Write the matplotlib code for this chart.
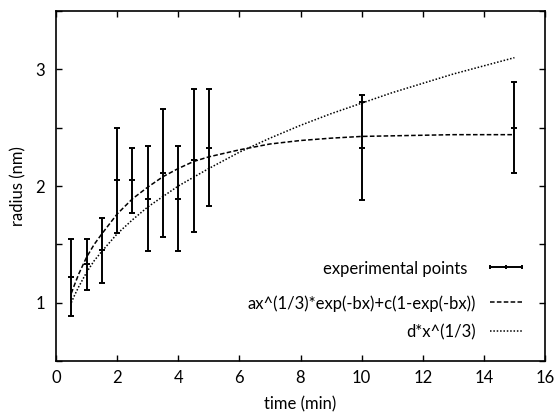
import matplotlib
matplotlib.use("Agg")
import matplotlib.pyplot as plt

# experimental points (time in min, radius in nm, error)
t_exp = [0.5, 1, 1.5, 2, 2.5, 3, 3.5, 4, 4.5, 5, 10, 15]
r_exp = [1.22, 1.33, 1.45, 2.05, 2.05, 1.89, 2.11, 1.89, 2.22, 2.33, 2.33, 2.50]
r_err = [0.33, 0.22, 0.28, 0.45, 0.28, 0.45, 0.55, 0.45, 0.61, 0.50, 0.45, 0.39]
# extra mark at t=10
t_extra = [10]
r_extra = [2.72]

# fitted curves, values
t_fit1 = [0.5, 0.6, 0.75, 1, 1.25, 1.5, 2, 2.5, 3, 3.5, 4, 4.5, 5, 5.5, 6, 7, 8, 9, 10, 11, 12, 13, 15]
r_fit1 = [1.08, 1.15, 1.25, 1.39, 1.50, 1.59, 1.76, 1.89, 1.99, 2.08, 2.15, 2.21, 2.25, 2.28, 2.31, 2.36, 2.39, 2.41, 2.425, 2.43, 2.435, 2.44, 2.44]

t_fit2 = [0.5, 0.6, 0.75, 1, 1.25, 1.5, 2, 2.5, 3, 3.5, 4, 5, 6, 7, 8, 9, 10, 11, 12, 13, 14, 15]
r_fit2 = [1.00, 1.06, 1.14, 1.26, 1.36, 1.44, 1.59, 1.71, 1.82, 1.91, 2.00, 2.15, 2.29, 2.41, 2.52, 2.62, 2.71, 2.80, 2.88, 2.96, 3.03, 3.10]

labels = ["experimental points", "ax^(1/3)*exp(-bx)+c(1-exp(-bx))", "d*x^(1/3)"]

plt.rcParams.update({'font.size': 12, 'font.family': ['Lato', 'DejaVu Sans']})
fig = plt.figure(figsize=(5.58, 4.15), dpi=100)
ax = fig.add_axes([0.1004, 0.1301, 0.8763, 0.8434])

ax.errorbar(t_exp, r_exp, yerr=r_err, fmt='_', color='black', ms=4, mew=1.4,
            elinewidth=1.4, capsize=2.5, capthick=1.4)
ax.plot(t_extra, r_extra, '_', color='black', ms=4, mew=1.4)
ax.plot(t_fit1, r_fit1, color='black', lw=1.1, dashes=(3, 1.5))
ax.plot(t_fit2, r_fit2, color='black', lw=1.1, dashes=(1, 1.2))

# gnuplot-style key in the lower right
rows_y = [0.2677, 0.1686, 0.0857]
rows_x = [0.842, 0.859, 0.859]
for lab, xx, yy in zip(labels, rows_x, rows_y):
    ax.text(xx, yy, lab, transform=ax.transAxes, ha='right', va='center_baseline')
ax.plot([0.8875, 0.9523], [rows_y[0]] * 2, transform=ax.transAxes, color='black', lw=1.4)
ax.plot([0.8875, 0.92, 0.9523], [rows_y[0]] * 3, '|', transform=ax.transAxes, color='black', ms=3.5, mew=1.4)
ax.plot([0.8875, 0.9523], [rows_y[1]] * 2, transform=ax.transAxes, color='black', lw=1.1, dashes=(3, 1.5))
ax.plot([0.8875, 0.9523], [rows_y[2]] * 2, transform=ax.transAxes, color='black', lw=1.1, dashes=(1, 1.2))

ax.set_xlim(0, 16)
ax.set_ylim(0.5, 3.5)
ax.set_xticks(range(0, 17, 2))
ax.set_yticks([0.5, 1, 1.5, 2, 2.5, 3, 3.5])
ax.set_yticklabels(['', '1', '', '2', '', '3', ''])
ax.tick_params(direction='in', length=4, width=1, top=True, right=True)
ax.tick_params(axis='x', pad=6.5)
ax.tick_params(axis='y', pad=8)
for s in ax.spines.values():
    s.set_linewidth(1.2)
ax.set_xlabel("time (min)")
ax.set_ylabel("radius (nm)")
ax.xaxis.set_label_coords(0.5, -0.1)
ax.yaxis.set_label_coords(-0.061, 0.5)

fig.savefig("out.png", dpi=100)
